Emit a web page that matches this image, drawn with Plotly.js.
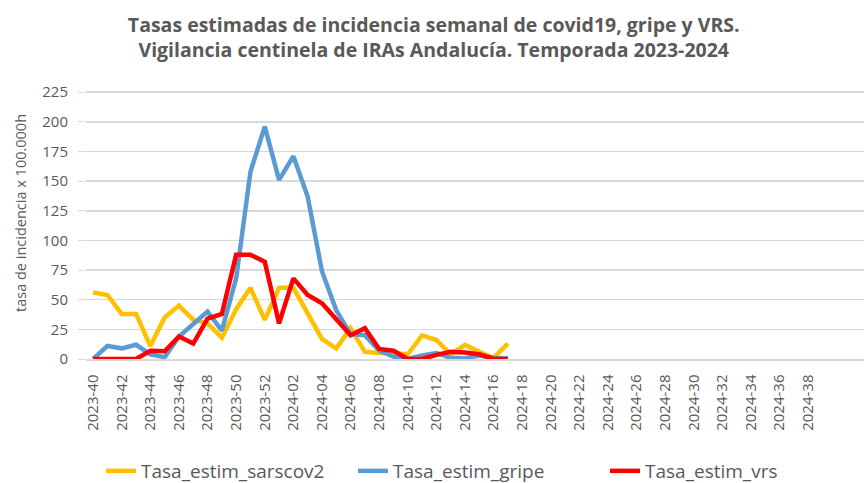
<!DOCTYPE html>
<html>
<head>
<meta charset="utf-8">
<script src="https://cdn.plot.ly/plotly-3.0.1.min.js"></script>
<style>html,body{margin:0;padding:0;background:#fff;}#chart{width:864px;height:483px;}</style>
</head>
<body>
<div id="chart"></div>
<script>
// Weeks 2023-40 .. 2023-52, 2024-01 .. 2024-39
const weeks2023 = ["2023-40","2023-41","2023-42","2023-43","2023-44","2023-45","2023-46","2023-47","2023-48","2023-49","2023-50","2023-51","2023-52"];
const weeks2024 = ["2024-01","2024-02","2024-03","2024-04","2024-05","2024-06","2024-07","2024-08","2024-09","2024-10","2024-11","2024-12","2024-13","2024-14","2024-15","2024-16","2024-17","2024-18","2024-19","2024-20","2024-21","2024-22","2024-23","2024-24","2024-25","2024-26","2024-27","2024-28","2024-29","2024-30","2024-31","2024-32","2024-33","2024-34","2024-35","2024-36","2024-37","2024-38","2024-39"];
const categories = weeks2023.concat(weeks2024);

// Data weeks 2023-40 .. 2024-17
const sarscov2 = [56,54,38,38,11,35,45,33,30,18,42,60,33,60,60,38,17,9,26,6,5,5,4,20,16,4,12,6,1,13];
const gripe    = [0,11,9,12,4,1.5,19,30,40,24,68,158,196,151,171,137,74,41,21,20,7,2,0,3,5,1,0.5,3,1,0.5];
const vrs      = [0,0,0,0,7,6.5,19,13,34,38,88,88,82,30,68,54,47,33,20,26,8.5,7,0,0,3.5,6,5.5,4,0,0];

const seriesNames = ["Tasa_estim_sarscov2","Tasa_estim_gripe","Tasa_estim_vrs"];
const tickLabels = categories.filter((c, i) => i % 2 === 0);
const yTicks = [0,25,50,75,100,125,150,175,200,225];

const xData = categories.slice(0, sarscov2.length);
const font = "'Open Sans', 'Liberation Sans', sans-serif";

const traces = [
  {x: xData, y: sarscov2, name: seriesNames[0], type: "scatter", mode: "lines", line: {color: "#FFC000", width: 4.5}},
  {x: xData, y: gripe, name: seriesNames[1], type: "scatter", mode: "lines", line: {color: "#5B9BD5", width: 4.5}},
  {x: xData, y: vrs, name: seriesNames[2], type: "scatter", mode: "lines", line: {color: "#FF0000", width: 4.5}}
];

const layout = {
  width: 864, height: 483,
  paper_bgcolor: "#ffffff", plot_bgcolor: "#ffffff",
  margin: {l: 86, r: 0, t: 91, b: 124, autoexpand: false},
  font: {family: font, color: "#595959"},
  title: {
    text: "<b>Tasas estimadas de incidencia semanal de covid19, gripe y VRS.<br>Vigilancia centinela de IRAs Andalucía. Temporada 2023-2024</b>",
    font: {family: font, size: 19.5, color: "#595959"},
    x: 0.502, xanchor: "center", xref: "container",
    y: 1 - 32/483, yref: "container", yanchor: "middle"
  },
  xaxis: {
    type: "category",
    categoryorder: "array", categoryarray: categories,
    range: [-0.5, 53.9],
    tickmode: "array", tickvals: tickLabels, ticktext: tickLabels,
    tickangle: -90,
    tickfont: {family: font, size: 15, color: "#595959"},
    showgrid: false,
    showline: true, linecolor: "#d9d9d9", linewidth: 1.5,
    ticks: "", ticklabelstandoff: 8,
    zeroline: false, fixedrange: true, automargin: false
  },
  yaxis: {
    range: [0, 226],
    tickmode: "array", tickvals: yTicks,
    tickfont: {family: font, size: 15, color: "#595959"},
    showgrid: true, gridcolor: "#d9d9d9", gridwidth: 1.5,
    zeroline: false, showline: false,
    ticks: "outside", ticklen: 7, tickcolor: "#d9d9d9",
    ticklabelstandoff: 7,
    fixedrange: true, automargin: false
  },
  annotations: [{
    text: "tasa de incidencia x 100.000h",
    xref: "paper", yref: "paper",
    x: (20 - 86) / 778, y: (359 - 213) / 268,
    xanchor: "center", yanchor: "middle",
    textangle: -90, showarrow: false,
    font: {family: font, size: 14.5, color: "#595959"}
  }],
  showlegend: true,
  legend: {
    orientation: "h", xref: "container", x: 101/864, xanchor: "left",
    yref: "container", y: 1 - 471/483, yanchor: "middle",
    font: {family: font, size: 19, color: "#595959"},
    itemwidth: 30, tracegroupgap: 0,
    entrywidth: 207, entrywidthmode: "pixels"
  }
};

Plotly.newPlot("chart", traces, layout, {displayModeBar: false, staticPlot: true});
</script>
</body>
</html>
